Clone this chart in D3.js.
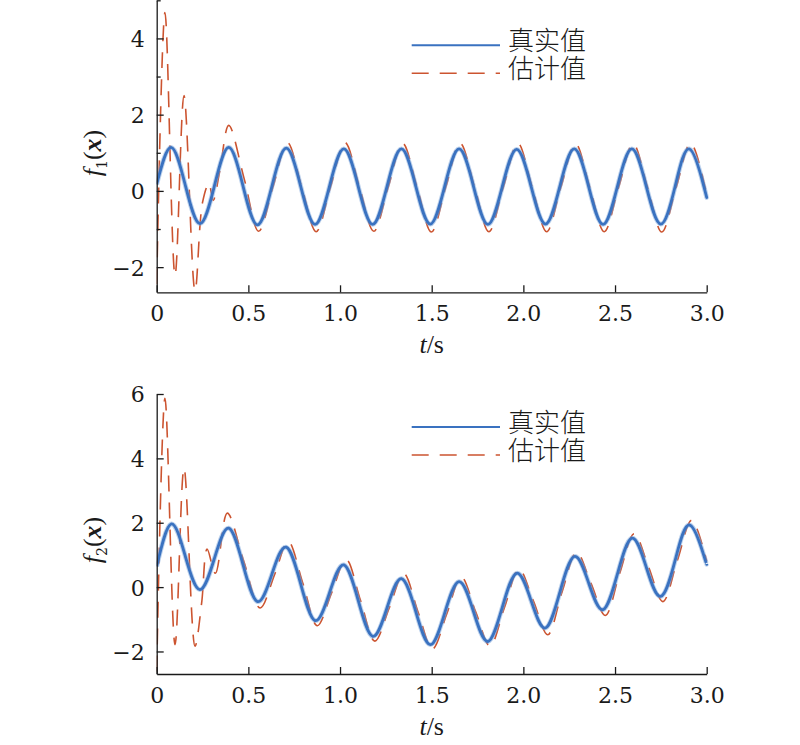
<!DOCTYPE html>
<html>
<head>
<meta charset="utf-8">
<script src="https://cdn.jsdelivr.net/npm/d3@7"></script>
<style>
  html, body { margin: 0; padding: 0; background: #fff; }
  svg { display: block; }
  .num { font-family: "DejaVu Serif", serif; }
  .lbl { font-family: "Liberation Serif", "DejaVu Serif", serif; }
  .cjk { font-family: "Noto Sans CJK SC", "Noto Sans CJK JP", sans-serif; }
</style>
</head>
<body>
<script>
// ---------------- DATA ----------------
const xTickValues = [0, 0.5, 1.0, 1.5, 2.0, 2.5, 3.0];
const xTickLabels = ["0", "0.5", "1.0", "1.5", "2.0", "2.5", "3.0"];
const y1TickValues = [-2, 0, 2, 4];
const y1MinorTicks = [-1, 1, 3, 5];
const y2TickValues = [-2, 0, 2, 4, 6];
const seriesNames = ["真实值", "估计值"];

// time samples of the true signals (quarter periods)
const tTrue = [0, 0.0785, 0.157, 0.2356, 0.3142, 0.3927, 0.4712, 0.5498, 0.6283, 0.7069,
  0.7854, 0.8639, 0.9425, 1.021, 1.0996, 1.1781, 1.2566, 1.3352, 1.4137, 1.4923,
  1.5708, 1.6493, 1.7279, 1.8064, 1.885, 1.9635, 2.042, 2.1206, 2.1991, 2.2777,
  2.3562, 2.4347, 2.5133, 2.5918, 2.6704, 2.7489, 2.8274, 2.906, 2.9845, 3.0];

const f1True = [0.17, 1.14, 0.13, -0.86, 0.12, 1.14, 0.12, -0.89, 0.12, 1.12,
  0.12, -0.88, 0.12, 1.1, 0.11, -0.88, 0.12, 1.1, 0.11, -0.87,
  0.12, 1.1, 0.12, -0.88, 0.11, 1.09, 0.12, -0.87, 0.12, 1.1,
  0.11, -0.88, 0.12, 1.1, 0.12, -0.87, 0.11, 1.1, 0.12, -0.17];

const f2True = [0.64, 1.96, 0.94, -0.08, 0.88, 1.83, 0.69, -0.45, 0.40, 1.24,
  0.10, -1.04, -0.18, 0.69, -0.42, -1.53, -0.64, 0.26, -0.77, -1.79,
  -0.81, 0.17, -0.76, -1.69, -0.63, 0.43, -0.42, -1.27, -0.16, 0.95,
  0.13, -0.70, 0.41, 1.52, 0.62, -0.29, 0.82, 1.93, 0.98, 0.72];

// estimated signals
const tEst1 = [0, 0.045, 0.1, 0.149, 0.209, 0.25, 0.285, 0.308, 0.345, 0.393,
  0.478, 0.556, 0.634, 0.713, 0.791, 0.870, 0.948, 1.027, 1.106, 1.184,
  1.263, 1.341, 1.420, 1.498, 1.577, 1.655, 1.734, 1.812, 1.891, 1.970,
  2.048, 2.127, 2.205, 2.284, 2.362, 2.441, 2.520, 2.598, 2.677, 2.755,
  2.834, 2.912, 2.991, 3.0];
const f1Est = [-2.45, 4.68, -2.22, 2.5, -2.62, -0.3, 0.2, -0.25, 0.55, 1.72,
  0.3, -1.06, 0.1, 1.27, 0.1, -1.07, 0.1, 1.27, 0.1, -1.06,
  0.1, 1.25, 0.1, -1.08, 0.1, 1.25, 0.1, -1.07, 0.1, 1.25,
  0.1, -1.07, 0.1, 1.24, 0.1, -1.07, 0.1, 1.24, 0.1, -1.08,
  0.1, 1.25, 0.1, -0.13];

const tEst2 = [0, 0.045, 0.1, 0.149, 0.209, 0.245, 0.275, 0.32, 0.385, 0.475,
  0.564, 0.645, 0.717, 0.797, 0.876, 0.954, 1.033, 1.112, 1.190, 1.269,
  1.347, 1.426, 1.504, 1.583, 1.661, 1.740, 1.818, 1.897, 1.976, 2.054,
  2.133, 2.211, 2.290, 2.368, 2.447, 2.525, 2.604, 2.683, 2.761, 2.840,
  2.918, 3.0];
const f2Est = [-2.62, 5.87, -1.79, 3.70, -1.84, -0.5, 1.18, 0.43, 2.3, 0.8,
  -0.65, 0.42, 1.42, 0.12, -1.2, -0.18, 0.86, -0.42, -1.68, -0.64,
  0.42, -0.78, -1.92, -0.82, 0.32, -0.77, -1.83, -0.63, 0.56, -0.42,
  -1.48, -0.15, 1.08, 0.13, -0.88, 0.42, 1.66, 0.62, -0.45, 0.83,
  2.08, 0.8];

// ---------------- LAYOUT ----------------
const W = 800, H = 745;
const X0 = 156.7, X1 = 706.7;
const BLUE = "#3a72c0", RED = "#cc5430", INK = "#1a1a1a";

const svg = d3.select("body").append("svg")
  .attr("width", W).attr("height", H)
  .attr("viewBox", `0 0 ${W} ${H}`);

const zip = (a, b) => a.map((v, i) => [v, b[i]]);

const panels = [
  { id: "p1", top: 0.3, bottom: 292.3, dom: [-2.66, 5], ticks: y1TickValues, minor: y1MinorTicks,
    tTrue: tTrue, yTrue: f1True, tEst: tEst1, yEst: f1Est, sub: "1", labelY: 153 },
  { id: "p2", top: 394, bottom: 674, dom: [-2.7, 6], ticks: y2TickValues, minor: [],
    tTrue: tTrue, yTrue: f2True, tEst: tEst2, yEst: f2Est, sub: "2", labelY: 540 }
];

const fmtY = d3.format("");

function numText(sel) {
  return sel.attr("class", "num").attr("fill", INK).style("font-size", "22px");
}
function lblText(sel) {
  return sel.attr("class", "lbl").attr("fill", INK).style("font-size", "26px");
}

panels.forEach(p => {
  const x = d3.scaleLinear().domain([0, 3]).range([X0, X1]);
  const y = d3.scaleLinear().domain(p.dom).range([p.bottom, p.top]);
  const g = svg.append("g");

  svg.append("clipPath").attr("id", "clip-" + p.id)
    .append("rect").attr("x", X0).attr("y", p.top - 2)
    .attr("width", X1 - X0 + 2).attr("height", p.bottom - p.top + 2);

  const lineTrue = d3.line().x(d => x(d[0])).y(d => y(d[1])).curve(d3.curveNatural);
  const lineEst = d3.line().x(d => x(d[0])).y(d => y(d[1])).curve(d3.curveCatmullRom.alpha(0.5));
  const plot = g.append("g").attr("clip-path", `url(#clip-${p.id})`);

  plot.append("path").datum(zip(p.tEst, p.yEst))
    .attr("d", lineEst).attr("fill", "none")
    .attr("stroke", RED).attr("stroke-width", 1.6)
    .attr("stroke-dasharray", "16,11");

  plot.append("path").datum(zip(p.tTrue, p.yTrue))
    .attr("d", lineTrue).attr("fill", "none")
    .attr("stroke", "#7aa3da").attr("stroke-opacity", 0.5).attr("stroke-width", 4.8)
    .attr("stroke-linejoin", "round");
  plot.append("path").datum(zip(p.tTrue, p.yTrue))
    .attr("d", lineTrue).attr("fill", "none")
    .attr("stroke", BLUE).attr("stroke-width", 2.8)
    .attr("stroke-linejoin", "round");

  // x axis
  const xa = g.append("g").attr("transform", `translate(0,${p.bottom})`)
    .call(d3.axisBottom(x).tickValues(xTickValues)
      .tickFormat((d, i) => xTickLabels[i]).tickSize(-7).tickSizeOuter(0));
  xa.select(".domain").attr("stroke", INK).attr("stroke-width", 1.3);
  xa.selectAll(".tick line").attr("stroke", INK).attr("stroke-width", 1.3);
  numText(xa.selectAll(".tick text")).attr("y", 29).attr("dy", 0);

  // y axis
  const ya = g.append("g").attr("transform", `translate(${X0},0)`)
    .call(d3.axisLeft(y).tickValues(p.ticks).tickFormat(fmtY)
      .tickSize(-7).tickSizeOuter(0).tickPadding(12));
  ya.select(".domain").attr("stroke", INK).attr("stroke-width", 1.3);
  ya.selectAll(".tick line").attr("stroke", INK).attr("stroke-width", 1.3);
  numText(ya.selectAll(".tick text")).attr("dy", "0.36em");

  if (p.minor.length) {
    const ym = g.append("g").attr("transform", `translate(${X0},0)`)
      .call(d3.axisLeft(y).tickValues(p.minor).tickFormat("").tickSize(-4).tickSizeOuter(0));
    ym.select(".domain").remove();
    ym.selectAll(".tick line").attr("stroke", INK).attr("stroke-width", 1.3);
  }

  // x label
  const xl = lblText(g.append("text")).attr("x", (X0 + X1) / 2).attr("y", p.bottom + 61)
    .attr("text-anchor", "middle");
  xl.append("tspan").style("font-style", "italic").text("t");
  xl.append("tspan").text("/s");

  // y label
  const yl = lblText(g.append("text"))
    .attr("transform", `translate(101,${p.labelY}) rotate(-90)`)
    .attr("text-anchor", "middle");
  yl.append("tspan").style("font-style", "italic").text("f");
  yl.append("tspan").attr("dy", 6).attr("class", "num").style("font-size", "14px").text(p.sub);
  yl.append("tspan").attr("dy", -6).text("(");
  yl.append("tspan").style("font-style", "italic").style("font-weight", "bold").text("x");
  yl.append("tspan").text(")");

  // legend
  const ly1 = p.bottom - 247, ly2 = p.bottom - 219;
  const lg = g.append("g");
  lg.append("line").attr("x1", 411.7).attr("x2", 500).attr("y1", ly1).attr("y2", ly1)
    .attr("stroke", BLUE).attr("stroke-width", 2);
  lg.append("line").attr("x1", 411.7).attr("x2", 500).attr("y1", ly2).attr("y2", ly2)
    .attr("stroke", RED).attr("stroke-width", 1.6).attr("stroke-dasharray", "17,11");
  const lt = lg.append("text").attr("class", "cjk")
    .attr("fill", INK).style("font-size", "26px").style("font-weight", 300);
  [ly1, ly2].forEach((ly, i) => {
    lt.append("tspan").attr("x", 508).attr("y", ly + 5).text(seriesNames[i]);
  });
});
</script>
</body>
</html>
